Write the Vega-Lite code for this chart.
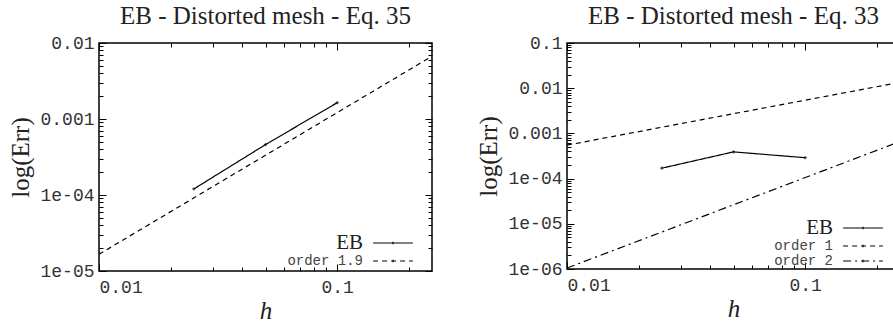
{
  "$schema": "https://vega.github.io/schema/vega-lite/v6.json",
  "padding": {"left": 8, "top": 3, "right": 0, "bottom": 0},
  "background": "white",
  "resolve": {"scale": {"strokeDash": "independent"}, "legend": {"strokeDash": "independent"}},
  "config": {
    "view": {"stroke": "black", "strokeWidth": 1.5},
    "font": "Liberation Serif",
    "concat": {"spacing": 40},
    "title": {"font": "Liberation Serif", "fontSize": 25, "fontWeight": "normal", "color": "#222", "anchor": "middle", "frame": "group", "offset": 5},
    "axis": {
      "domain": false, "grid": false, "tickColor": "black", "tickWidth": 1,
      "labelFont": "Liberation Mono", "labelFontSize": 18, "labelColor": "#333",
      "titleFont": "Liberation Serif", "titleFontSize": 25, "titleFontWeight": "normal", "titleColor": "#222"
    },
    "legend": {
      "orient": "bottom-right", "offset": 3, "title": null,
      "symbolType": "M-6,0H6M0,-0.4V0.4M10,0", "symbolSize": 44, "symbolStrokeWidth": 1.2, "symbolStrokeColor": "black",
      "labelFont": "Liberation Mono", "labelFontSize": 14, "labelColor": "#444", "labelAlign": "right", "labelOffset": -37, "rowPadding": 1
    }
  },
  "hconcat": [
    {
      "width": 333, "height": 228,
      "title": {"text": "EB - Distorted mesh - Eq. 35"},
      "data": {"values": [
        {"h": 0.025, "err": 0.00012, "series": "EB"},
        {"h": 0.05, "err": 0.00046, "series": "EB"},
        {"h": 0.1, "err": 0.00164, "series": "EB"},
        {"h": 0.01, "err": 0.0000166, "series": "order 1.9"},
        {"h": 0.25, "err": 0.0067, "series": "order 1.9"}
      ]},
      "layer": [
        {
          "mark": {"type": "line", "strokeWidth": 1.2, "color": "black", "clip": true},
          "encoding": {
            "x": {"field": "h", "type": "quantitative", "scale": {"type": "log", "domain": [0.01, 0.25], "nice": false},
              "axis": {"orient": "bottom", "values": [0.01, 0.1], "labelExpr": "format(datum.value, '~g')", "tickSize": -7, "labelPadding": 14, "labelDx": 4, "title": "h", "titleFontStyle": "italic", "titlePadding": 2}},
            "y": {"field": "err", "type": "quantitative", "scale": {"type": "log", "domain": [0.00001, 0.01], "nice": false},
              "axis": {"orient": "left", "values": [0.00001, 0.0001, 0.001, 0.01], "labelExpr": "datum.value >= 0.001 ? format(datum.value, '~g') : replace(format(datum.value, '.0e'), 'e-', 'e-0')", "tickSize": -7, "labelPadding": 12, "title": "log(Err)", "titlePadding": 6}},
            "strokeDash": {"field": "series", "type": "nominal", "scale": {"domain": ["EB", "order 1.9"], "range": [[1, 0], [5, 4]]},
              "legend": {"encode": {"labels": {"update": {"font": {"signal": "datum.label === 'EB' ? 'Liberation Serif' : 'Liberation Mono'"}, "fontSize": {"signal": "datum.label === 'EB' ? 21 : 14"}, "fill": {"signal": "datum.label === 'EB' ? '#222' : '#444'"}}}}}}
          }
        },
        {
          "transform": [{"filter": "datum.series === 'EB'"}],
          "mark": {"type": "point", "shape": "cross", "size": 10, "filled": true, "color": "black"},
          "encoding": {
            "x": {"field": "h", "type": "quantitative", "axis": {"orient": "bottom", "values": [0.02, 0.03, 0.04, 0.05, 0.06, 0.07, 0.08, 0.09, 0.2], "labels": false, "tickSize": -4, "title": null}},
            "y": {"field": "err", "type": "quantitative", "axis": {"orient": "left", "values": [0.00002, 0.00003, 0.00004, 0.00005, 0.00006, 0.00007, 0.00008, 0.00009, 0.0002, 0.0003, 0.0004, 0.0005, 0.0006, 0.0007, 0.0008, 0.0009, 0.002, 0.003, 0.004, 0.005, 0.006, 0.007, 0.008, 0.009], "labels": false, "tickSize": -4, "title": null}}
          }
        },
        {
          "mark": {"type": "point", "opacity": 0},
          "encoding": {
            "x": {"field": "h", "type": "quantitative", "axis": {"orient": "top", "values": [0.01, 0.1], "labels": false, "tickSize": -7, "title": null}},
            "y": {"field": "err", "type": "quantitative", "axis": {"orient": "right", "values": [0.00001, 0.0001, 0.001, 0.01], "labels": false, "tickSize": -7, "title": null}}
          }
        },
        {
          "mark": {"type": "point", "opacity": 0},
          "encoding": {
            "x": {"field": "h", "type": "quantitative", "axis": {"orient": "top", "values": [0.02, 0.03, 0.04, 0.05, 0.06, 0.07, 0.08, 0.09, 0.2], "labels": false, "tickSize": -4, "title": null}},
            "y": {"field": "err", "type": "quantitative", "axis": {"orient": "right", "values": [0.00002, 0.00003, 0.00004, 0.00005, 0.00006, 0.00007, 0.00008, 0.00009, 0.0002, 0.0003, 0.0004, 0.0005, 0.0006, 0.0007, 0.0008, 0.0009, 0.002, 0.003, 0.004, 0.005, 0.006, 0.007, 0.008, 0.009], "labels": false, "tickSize": -4, "title": null}}
          }
        }
      ],
      "resolve": {"axis": {"x": "independent", "y": "independent"}}
    },
    {
      "width": 333, "height": 226,
      "title": {"text": "EB - Distorted mesh - Eq. 33"},
      "data": {"values": [
        {"h": 0.025, "err": 0.00017, "series": "EB"},
        {"h": 0.05, "err": 0.00039, "series": "EB"},
        {"h": 0.1, "err": 0.00029, "series": "EB"},
        {"h": 0.01, "err": 0.00055, "series": "order 1"},
        {"h": 0.25, "err": 0.0135, "series": "order 1"},
        {"h": 0.01, "err": 0.00000105, "series": "order 2"},
        {"h": 0.25, "err": 0.00066, "series": "order 2"}
      ]},
      "layer": [
        {
          "mark": {"type": "line", "strokeWidth": 1.2, "color": "black", "clip": true},
          "encoding": {
            "x": {"field": "h", "type": "quantitative", "scale": {"type": "log", "domain": [0.01, 0.25], "nice": false},
              "axis": {"orient": "bottom", "values": [0.01, 0.1], "labelExpr": "format(datum.value, '~g')", "tickSize": -7, "labelPadding": 14, "labelDx": 4, "title": "h", "titleFontStyle": "italic", "titlePadding": 2}},
            "y": {"field": "err", "type": "quantitative", "scale": {"type": "log", "domain": [0.000001, 0.1], "nice": false},
              "axis": {"orient": "left", "values": [0.000001, 0.00001, 0.0001, 0.001, 0.01, 0.1], "labelExpr": "datum.value >= 0.001 ? format(datum.value, '~g') : replace(format(datum.value, '.0e'), 'e-', 'e-0')", "tickSize": -7, "labelPadding": 12, "title": "log(Err)", "titlePadding": 6}},
            "strokeDash": {"field": "series", "type": "nominal", "scale": {"domain": ["EB", "order 1", "order 2"], "range": [[1, 0], [5, 4], [8, 4, 2, 4]]},
              "legend": {"offset": 1, "encode": {"labels": {"update": {"font": {"signal": "datum.label === 'EB' ? 'Liberation Serif' : 'Liberation Mono'"}, "fontSize": {"signal": "datum.label === 'EB' ? 21 : 14"}, "fill": {"signal": "datum.label === 'EB' ? '#222' : '#444'"}}}}}}
          }
        },
        {
          "transform": [{"filter": "datum.series === 'EB'"}],
          "mark": {"type": "point", "shape": "cross", "size": 10, "filled": true, "color": "black"},
          "encoding": {
            "x": {"field": "h", "type": "quantitative", "axis": {"orient": "bottom", "values": [0.02, 0.03, 0.04, 0.05, 0.06, 0.07, 0.08, 0.09, 0.2], "labels": false, "tickSize": -4, "title": null}},
            "y": {"field": "err", "type": "quantitative", "axis": {"orient": "left", "values": [0.000002, 0.000003, 0.000004, 0.000005, 0.000006, 0.000007, 0.000008, 0.000009, 0.00002, 0.00003, 0.00004, 0.00005, 0.00006, 0.00007, 0.00008, 0.00009, 0.0002, 0.0003, 0.0004, 0.0005, 0.0006, 0.0007, 0.0008, 0.0009, 0.002, 0.003, 0.004, 0.005, 0.006, 0.007, 0.008, 0.009, 0.02, 0.03, 0.04, 0.05, 0.06, 0.07, 0.08, 0.09], "labels": false, "tickSize": -4, "title": null}}
          }
        },
        {
          "mark": {"type": "point", "opacity": 0},
          "encoding": {
            "x": {"field": "h", "type": "quantitative", "axis": {"orient": "top", "values": [0.01, 0.1], "labels": false, "tickSize": -7, "title": null}},
            "y": {"field": "err", "type": "quantitative", "axis": {"orient": "right", "values": [0.000001, 0.00001, 0.0001, 0.001, 0.01, 0.1], "labels": false, "tickSize": -7, "title": null}}
          }
        },
        {
          "mark": {"type": "point", "opacity": 0},
          "encoding": {
            "x": {"field": "h", "type": "quantitative", "axis": {"orient": "top", "values": [0.02, 0.03, 0.04, 0.05, 0.06, 0.07, 0.08, 0.09, 0.2], "labels": false, "tickSize": -4, "title": null}}
          }
        }
      ],
      "resolve": {"axis": {"x": "independent", "y": "independent"}}
    }
  ]
}
